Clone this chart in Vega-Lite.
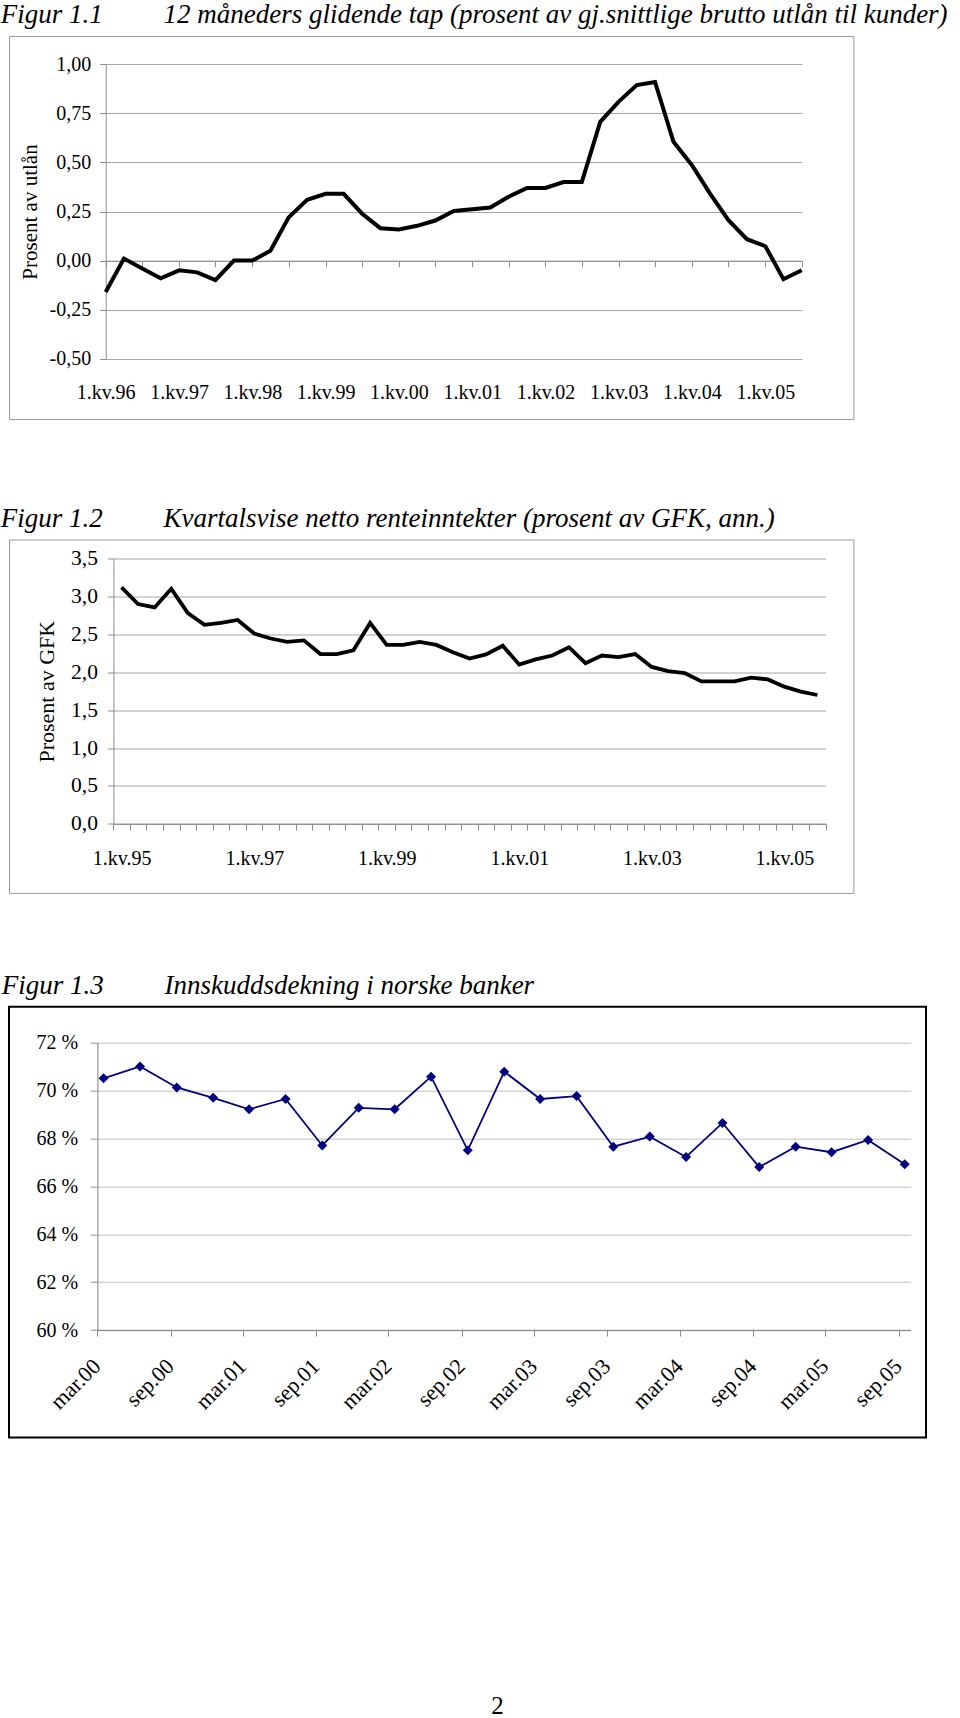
{
  "$schema": "https://vega.github.io/schema/vega-lite/v6.json",
  "background": "white",
  "padding": {"left": 0, "top": 0, "right": 0, "bottom": 1},
  "config": {
    "font": "Liberation Serif",
    "axis": {"labelFont": "Liberation Serif", "titleFont": "Liberation Serif", "labelColor": "black", "titleColor": "black", "titleFontWeight": "normal", "domainColor": "#8c8c8c", "tickColor": "#8c8c8c", "gridColor": "#a6a6a6", "gridOpacity": 1, "gridWidth": 1, "domainWidth": 1, "tickWidth": 1, "labelFlush": false, "labelOverlap": false},
    "title": {"font": "Liberation Serif", "fontStyle": "italic", "fontWeight": "normal", "fontSize": 27, "color": "black", "anchor": "start"}
  },
  "spacing": 76.7,
  "vconcat": [
    {
      "spacing": 83.5,
      "vconcat": [
        {
          "width": 844.4,
          "height": 383,
          "view": {"stroke": "#999999", "strokeWidth": 1, "fill": "white"},
          "title": {"text": "Figur 1.1\u00a0\u00a0\u00a0\u00a0\u00a0\u00a0\u00a0\u00a0\u00a012 måneders glidende tap (prosent av gj.snittlige brutto utlån til kunder)", "frame": "group", "offset": -14, "baseline": "alphabetic", "dx": -8.3},
          "data": {"values": [
            {"kvartal": "1996-01-01", "tap": -0.16},
            {"kvartal": "1996-04-01", "tap": 0.01},
            {"kvartal": "1996-07-01", "tap": -0.04},
            {"kvartal": "1996-10-01", "tap": -0.09},
            {"kvartal": "1997-01-01", "tap": -0.05},
            {"kvartal": "1997-04-01", "tap": -0.06},
            {"kvartal": "1997-07-01", "tap": -0.10},
            {"kvartal": "1997-10-01", "tap": 0.0},
            {"kvartal": "1998-01-01", "tap": 0.0},
            {"kvartal": "1998-04-01", "tap": 0.05},
            {"kvartal": "1998-07-01", "tap": 0.22},
            {"kvartal": "1998-10-01", "tap": 0.31},
            {"kvartal": "1999-01-01", "tap": 0.34},
            {"kvartal": "1999-04-01", "tap": 0.34},
            {"kvartal": "1999-07-01", "tap": 0.24},
            {"kvartal": "1999-10-01", "tap": 0.165},
            {"kvartal": "2000-01-01", "tap": 0.158},
            {"kvartal": "2000-04-01", "tap": 0.177},
            {"kvartal": "2000-07-01", "tap": 0.204},
            {"kvartal": "2000-10-01", "tap": 0.253},
            {"kvartal": "2001-01-01", "tap": 0.262},
            {"kvartal": "2001-04-01", "tap": 0.27},
            {"kvartal": "2001-07-01", "tap": 0.325},
            {"kvartal": "2001-10-01", "tap": 0.37},
            {"kvartal": "2002-01-01", "tap": 0.37},
            {"kvartal": "2002-04-01", "tap": 0.40},
            {"kvartal": "2002-07-01", "tap": 0.40},
            {"kvartal": "2002-10-01", "tap": 0.707},
            {"kvartal": "2003-01-01", "tap": 0.81},
            {"kvartal": "2003-04-01", "tap": 0.894},
            {"kvartal": "2003-07-01", "tap": 0.91},
            {"kvartal": "2003-10-01", "tap": 0.605},
            {"kvartal": "2004-01-01", "tap": 0.486},
            {"kvartal": "2004-04-01", "tap": 0.34},
            {"kvartal": "2004-07-01", "tap": 0.206},
            {"kvartal": "2004-10-01", "tap": 0.109},
            {"kvartal": "2005-01-01", "tap": 0.073},
            {"kvartal": "2005-04-01", "tap": -0.095},
            {"kvartal": "2005-07-01", "tap": -0.049}
          ]},
          "encoding": {
            "y": {"field": "tap", "type": "quantitative",
              "scale": {"domain": [-0.5, 1], "range": [322.7, 28.3], "nice": false, "zero": false},
              "axis": {"orient": "left", "offset": -96.7, "values": [-0.5, -0.25, 0, 0.25, 0.5, 0.75, 1],
                "labelExpr": "(datum.value < 0 ? '-' : '') + replace(format(abs(datum.value), '.2f'), '.', ',')",
                "grid": true, "tickSize": 6, "labelPadding": 9, "labelFontSize": 20,
                "title": "Prosent av utlån", "titleFontSize": 21, "titlePadding": 9}}
          },
          "layer": [
            {
              "mark": {"type": "line", "color": "black", "strokeWidth": 4},
              "encoding": {
                "x": {"field": "kvartal", "type": "temporal",
                  "scale": {"type": "utc", "domain": [{"year": 1996, "month": 1, "date": 1, "utc": true}, {"year": 2005, "month": 7, "date": 1, "utc": true}], "range": [96.7, 792.7]},
                  "axis": {"orient": "bottom", "offset": -158.3, "tickCount": {"interval": "month", "step": 6}, "labels": false, "ticks": true, "tickSize": 6, "domain": true, "grid": false, "title": null}}
              }
            },
            {
              "mark": {"type": "line", "strokeOpacity": 0},
              "encoding": {
                "x": {"field": "kvartal", "type": "temporal",
                  "scale": {"type": "utc", "domain": [{"year": 1996, "month": 1, "date": 1, "utc": true}, {"year": 2005, "month": 7, "date": 1, "utc": true}], "range": [96.7, 792.7]},
                  "axis": {"orient": "bottom", "offset": -60.3, "tickCount": {"interval": "year", "step": 1}, "labelExpr": "'1.kv.' + utcFormat(datum.value, '%y')", "ticks": false, "tickSize": 0, "domain": false, "grid": false, "labelPadding": 24.2, "labelFontSize": 20, "title": null}}
              }
            }
          ],
          "resolve": {"axis": {"x": "independent"}}
        },
        {
          "width": 844.4,
          "height": 353.4,
          "view": {"stroke": "#999999", "strokeWidth": 1, "fill": "white"},
          "title": {"text": "Figur 1.2\u00a0\u00a0\u00a0\u00a0\u00a0\u00a0\u00a0\u00a0\u00a0Kvartalsvise netto renteinntekter (prosent av GFK, ann.)", "frame": "group", "offset": -14, "baseline": "alphabetic", "dx": -8.3},
          "data": {"values": [
            {"kvartal": "1995-01-01", "nii": 3.12},
            {"kvartal": "1995-04-01", "nii": 2.90},
            {"kvartal": "1995-07-01", "nii": 2.855},
            {"kvartal": "1995-10-01", "nii": 3.10},
            {"kvartal": "1996-01-01", "nii": 2.78},
            {"kvartal": "1996-04-01", "nii": 2.625},
            {"kvartal": "1996-07-01", "nii": 2.65},
            {"kvartal": "1996-10-01", "nii": 2.69},
            {"kvartal": "1997-01-01", "nii": 2.51},
            {"kvartal": "1997-04-01", "nii": 2.445},
            {"kvartal": "1997-07-01", "nii": 2.40},
            {"kvartal": "1997-10-01", "nii": 2.42},
            {"kvartal": "1998-01-01", "nii": 2.24},
            {"kvartal": "1998-04-01", "nii": 2.24},
            {"kvartal": "1998-07-01", "nii": 2.29},
            {"kvartal": "1998-10-01", "nii": 2.65},
            {"kvartal": "1999-01-01", "nii": 2.36},
            {"kvartal": "1999-04-01", "nii": 2.36},
            {"kvartal": "1999-07-01", "nii": 2.40},
            {"kvartal": "1999-10-01", "nii": 2.36},
            {"kvartal": "2000-01-01", "nii": 2.265},
            {"kvartal": "2000-04-01", "nii": 2.18},
            {"kvartal": "2000-07-01", "nii": 2.235},
            {"kvartal": "2000-10-01", "nii": 2.35},
            {"kvartal": "2001-01-01", "nii": 2.10},
            {"kvartal": "2001-04-01", "nii": 2.17},
            {"kvartal": "2001-07-01", "nii": 2.22},
            {"kvartal": "2001-10-01", "nii": 2.33},
            {"kvartal": "2002-01-01", "nii": 2.12},
            {"kvartal": "2002-04-01", "nii": 2.22},
            {"kvartal": "2002-07-01", "nii": 2.20},
            {"kvartal": "2002-10-01", "nii": 2.24},
            {"kvartal": "2003-01-01", "nii": 2.07},
            {"kvartal": "2003-04-01", "nii": 2.015},
            {"kvartal": "2003-07-01", "nii": 1.99},
            {"kvartal": "2003-10-01", "nii": 1.88},
            {"kvartal": "2004-01-01", "nii": 1.88},
            {"kvartal": "2004-04-01", "nii": 1.88},
            {"kvartal": "2004-07-01", "nii": 1.93},
            {"kvartal": "2004-10-01", "nii": 1.905},
            {"kvartal": "2005-01-01", "nii": 1.81},
            {"kvartal": "2005-04-01", "nii": 1.745},
            {"kvartal": "2005-07-01", "nii": 1.70}
          ]},
          "mark": {"type": "line", "color": "black", "strokeWidth": 3.8},
          "encoding": {
            "x": {"field": "kvartal", "type": "temporal", "timeUnit": "utcyearquarter", "bandPosition": 0.5,
              "scale": {"type": "utc", "domain": [{"year": 1995, "month": 1, "date": 1, "utc": true}, {"year": 2005, "month": 10, "date": 1, "utc": true}], "range": [104.4, 816.7]},
              "axis": {"orient": "bottom", "offset": -69, "tickCount": {"interval": "month", "step": 3},
                "labelExpr": "utcmonth(datum.value) == 0 && utcyear(datum.value) % 2 == 1 ? '1.kv.' + utcFormat(datum.value, '%y') : ''",
                "labelOffset": 8.28, "tickSize": 6, "labelPadding": 18.2, "labelFontSize": 20, "grid": false, "title": null}},
            "y": {"field": "nii", "type": "quantitative",
              "scale": {"domain": [0, 3.5], "range": [284.4, 19], "nice": false, "zero": false},
              "axis": {"orient": "left", "offset": -104.4, "values": [0, 0.5, 1, 1.5, 2, 2.5, 3, 3.5],
                "labelExpr": "replace(format(datum.value, '.1f'), '.', ',')",
                "grid": true, "tickSize": 6, "labelPadding": 10, "labelFontSize": 21.5,
                "title": "Prosent av GFK", "titleFontSize": 22, "titlePadding": 12.5}}
          }
        }
      ]
    },
    {
      "spacing": 255,
      "vconcat": [
        {
          "width": 917,
          "height": 430.7,
          "view": {"stroke": "black", "strokeWidth": 2, "fill": "white"},
          "title": {"text": "Figur 1.3\u00a0\u00a0\u00a0\u00a0\u00a0\u00a0\u00a0\u00a0\u00a0Innskuddsdekning i norske banker", "frame": "group", "offset": -14, "baseline": "alphabetic", "dx": -7.3},
          "data": {"values": [
            {"maaned": "2000-03-01", "dekning": 70.50},
            {"maaned": "2000-06-01", "dekning": 71.00},
            {"maaned": "2000-09-01", "dekning": 70.12},
            {"maaned": "2000-12-01", "dekning": 69.69},
            {"maaned": "2001-03-01", "dekning": 69.21},
            {"maaned": "2001-06-01", "dekning": 69.64},
            {"maaned": "2001-09-01", "dekning": 67.70},
            {"maaned": "2001-12-01", "dekning": 69.27},
            {"maaned": "2002-03-01", "dekning": 69.21},
            {"maaned": "2002-06-01", "dekning": 70.57},
            {"maaned": "2002-09-01", "dekning": 67.50},
            {"maaned": "2002-12-01", "dekning": 70.78},
            {"maaned": "2003-03-01", "dekning": 69.64},
            {"maaned": "2003-06-01", "dekning": 69.76},
            {"maaned": "2003-09-01", "dekning": 67.65},
            {"maaned": "2003-12-01", "dekning": 68.07},
            {"maaned": "2004-03-01", "dekning": 67.22},
            {"maaned": "2004-06-01", "dekning": 68.64},
            {"maaned": "2004-09-01", "dekning": 66.80},
            {"maaned": "2004-12-01", "dekning": 67.65},
            {"maaned": "2005-03-01", "dekning": 67.42},
            {"maaned": "2005-06-01", "dekning": 67.93},
            {"maaned": "2005-09-01", "dekning": 66.92}
          ]},
          "encoding": {
            "x": {"field": "maaned", "type": "temporal", "timeUnit": "utcyearmonth", "bandPosition": 0.5,
              "scale": {"type": "utc", "domain": [{"year": 2000, "month": 3, "date": 1, "utc": true}, {"year": 2005, "month": 10, "date": 1, "utc": true}], "range": [88.4, 901.7]},
              "axis": {"orient": "bottom", "offset": -107.3,
                "values": [
                  {"year": 2000, "month": 3, "date": 1, "utc": true}, {"year": 2000, "month": 9, "date": 1, "utc": true},
                  {"year": 2001, "month": 3, "date": 1, "utc": true}, {"year": 2001, "month": 9, "date": 1, "utc": true},
                  {"year": 2002, "month": 3, "date": 1, "utc": true}, {"year": 2002, "month": 9, "date": 1, "utc": true},
                  {"year": 2003, "month": 3, "date": 1, "utc": true}, {"year": 2003, "month": 9, "date": 1, "utc": true},
                  {"year": 2004, "month": 3, "date": 1, "utc": true}, {"year": 2004, "month": 9, "date": 1, "utc": true},
                  {"year": 2005, "month": 3, "date": 1, "utc": true}, {"year": 2005, "month": 9, "date": 1, "utc": true}
                ],
                "labelExpr": "lower(utcFormat(datum.value, '%b')) + '.' + utcFormat(datum.value, '%y')",
                "labelAngle": -45, "labelAlign": "right", "labelBaseline": "top", "labelOffset": -8,
                "tickSize": 6, "labelPadding": 19, "labelFontSize": 22, "grid": false, "title": null, "domainColor": "#7f7f7f"}},
            "y": {"field": "dekning", "type": "quantitative",
              "scale": {"domain": [60, 72], "range": [323.4, 35.7], "nice": false, "zero": false},
              "axis": {"orient": "left", "offset": -88.4, "values": [60, 62, 64, 66, 68, 70, 72],
                "labelExpr": "format(datum.value, 'd') + ' %'",
                "grid": true, "gridColor": "#c0c0c0", "domainColor": "#7f7f7f", "tickSize": 7, "labelPadding": 12.7, "labelFontSize": 20, "title": null}}
          },
          "layer": [
            {
              "data": {"values": [{}]},
              "mark": {"type": "rect", "fill": null, "stroke": "#7f7f7f", "strokeWidth": 1.5},
              "encoding": {
                "x": {"datum": {"year": 2000, "month": 3, "date": 1, "utc": true}, "type": "temporal"},
                "x2": {"datum": {"year": 2005, "month": 10, "date": 1, "utc": true}},
                "y": {"datum": 60, "type": "quantitative"},
                "y2": {"datum": 72}
              }
            },
            {"mark": {"type": "line", "color": "#000080", "strokeWidth": 1.8}},
            {"mark": {"type": "point", "shape": "diamond", "filled": true, "size": 100, "color": "#000080", "opacity": 1}}
          ]
        },
        {
          "width": 917,
          "height": 24,
          "view": {"stroke": null},
          "data": {"values": [{"side": "2"}]},
          "mark": {"type": "text", "font": "Liberation Serif", "fontSize": 25, "baseline": "middle", "align": "center", "dx": 30, "color": "black"},
          "encoding": {"text": {"field": "side", "type": "nominal"}}
        }
      ]
    }
  ]
}
